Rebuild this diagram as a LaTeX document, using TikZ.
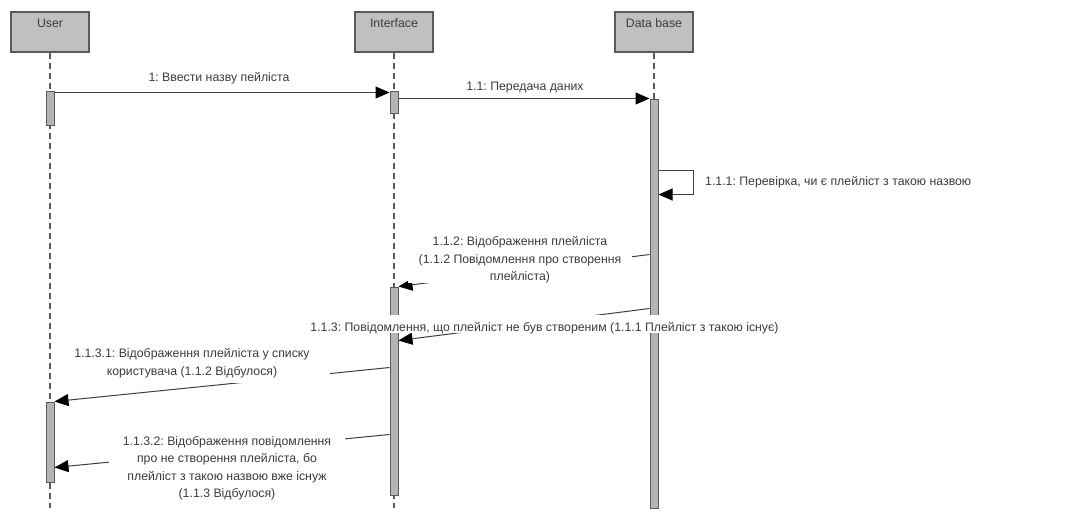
\documentclass[tikz,border=0pt]{standalone}
\usepackage{fontspec}
\setmainfont{Liberation Sans}
\usetikzlibrary{arrows.meta}
\definecolor{boxfill}{HTML}{C0C0C0}
\definecolor{barfill}{HTML}{B4B4B4}
\definecolor{edge}{HTML}{5A5A5A}
\definecolor{ink}{HTML}{3C3C3C}
\definecolor{wire}{HTML}{404040}
\begin{document}
\frenchspacing
\begin{tikzpicture}[x=1pt,y=-1pt,
  lbl/.style={font={\fontsize{12.3}{17.5}\selectfont}, text=ink, align=center},
  head/.style={draw=edge, line width=1.3pt, fill=boxfill, minimum width=78pt, minimum height=40pt, inner sep=0pt},
  life/.style={draw=edge, line width=1.2pt, dash pattern=on 6pt off 4pt},
  bar/.style={draw=edge, line width=1pt, fill=barfill, minimum width=8pt, inner sep=0pt},
  msg/.style={draw=wire, line width=1pt, -{Triangle[length=14pt,width=12pt,color=black]}},
  cut/.style={lbl, fill=white, inner sep=0pt}]
\useasboundingbox (0,0) rectangle (1069,515);
\fill[white] (0,0) rectangle (1069,515);

% participants
\node[head] (user) at (50,32) {};
\node[head] (iface) at (394,32) {};
\node[head] (db) at (654,32) {};
\node[lbl, anchor=north] at (user.north) [yshift=-4pt] {User};
\node[lbl, anchor=north] at (iface.north) [yshift=-4pt] {Interface};
\node[lbl, anchor=north] at (db.north) [yshift=-4pt] {Data base};

% lifelines
\coordinate (userEnd) at (50,508);
\coordinate (ifaceEnd) at (394,508);
\coordinate (dbEnd) at (654,508);
\draw[life] (user.south) -- (userEnd);
\draw[life] (iface.south) -- (ifaceEnd);
\draw[life] (db.south) -- (dbEnd);

% activation bars
\node[bar, minimum height=34pt] (ub1) at (50,108) {};
\node[bar, minimum height=22pt] (ib1) at (394,102) {};
\node[bar, minimum height=409pt] (db1) at (654,303.5) {};
\node[bar, minimum height=208pt] (ib2) at (394,391) {};
\node[bar, minimum height=80pt] (ub2) at (50,442) {};

% 1
\draw[msg] ([yshift=-2pt]ub1.north east) -- ([yshift=-2pt]ib1.north west);
\node[lbl] at (219,78) {1: Ввести назву пейліста};

% 1.1
\draw[msg] ([yshift=-8pt]ib1.north east) -- (db1.north west);
\node[lbl] at (525,88) {1.1: Передача даних};

% 1.1.1 self call
\coordinate (s1) at ([yshift=-72pt]db1.north east);
\coordinate (s2) at ([yshift=-96pt]db1.north east);
\draw[msg] (s1) -- ++(35,0) |- (s2);
\node[lbl, anchor=west, inner sep=0pt] at (705,182) {1.1.1: Перевірка, чи є плейліст з такою назвою};

% 1.1.2
\draw[msg] ([yshift=-156pt]db1.north west) -- (ib2.north east);
\node[cut, minimum width=224pt, minimum height=45pt] at (520,260) {1.1.2: Відображення плейліста\\(1.1.2 Повідомлення про створення\\плейліста)};

% 1.1.3 (its label box lies over both bars)
\draw[msg] ([yshift=-210pt]db1.north west) -- ([yshift=-54pt]ib2.north east);
\node[cut, anchor=base, text height=16.3pt, text depth=1.7pt] at (544.5,331.3) {1.1.3: Повідомлення, що плейліст не був створеним (1.1.1 Плейліст з такою існує)};

% 1.1.3.1
\draw[msg] ([yshift=-81pt]ib2.north west) -- (ub2.north east);
\node[cut, minimum width=276pt, minimum height=39pt] at (192,363) {1.1.3.1: Відображення плейліста у списку\\користувача (1.1.2 Відбулося)};

% 1.1.3.2
\draw[msg] ([yshift=-148pt]ib2.north west) -- ([yshift=-66pt]ub2.north east);
\node[cut, minimum width=236pt, minimum height=67pt] at (227,468.5) {1.1.3.2: Відображення повідомлення\\про не створення плейліста, бо\\плейліст з такою назвою вже існуж\\(1.1.3 Відбулося)};
\end{tikzpicture}
\end{document}
